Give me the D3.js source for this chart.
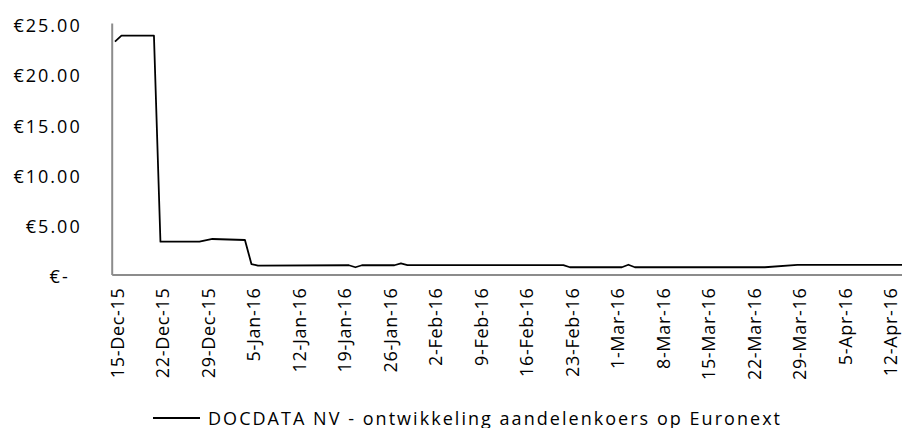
<!DOCTYPE html>
<html>
<head>
<meta charset="utf-8">
<script src="https://cdn.jsdelivr.net/npm/d3@7"></script>
<style>
  html, body { margin: 0; padding: 0; background: #fff; }
  svg { display: block; }
  text { font-family: "Open Sans", "Noto Sans", sans-serif; fill: #000; }
</style>
</head>
<body>
<svg id="chart" width="902" height="428"></svg>
<script>
// ---- data ----
const seriesName = "DOCDATA NV - ontwikkeling aandelenkoers op Euronext";
const dates = ["2015-12-14","2015-12-15","2015-12-20","2015-12-21","2015-12-27","2015-12-29",
  "2016-01-03","2016-01-04","2016-01-05","2016-01-19","2016-01-20","2016-01-21",
  "2016-01-26","2016-01-27","2016-01-28","2016-02-21","2016-02-22","2016-03-01",
  "2016-03-02","2016-03-03","2016-03-23","2016-03-28","2016-04-14"];
const prices = [23.14,23.74,23.74,3.26,3.26,3.53,
  3.43,1.04,0.88,0.92,0.72,0.92,
  0.92,1.10,0.93,0.93,0.72,0.72,
  0.97,0.72,0.72,0.95,0.95];
const tickDates = ["2015-12-15","2015-12-22","2015-12-29","2016-01-05","2016-01-12","2016-01-19",
  "2016-01-26","2016-02-02","2016-02-09","2016-02-16","2016-02-23","2016-03-01",
  "2016-03-08","2016-03-15","2016-03-22","2016-03-29","2016-04-05","2016-04-12"];
const tickLabels = ["15-Dec-15","22-Dec-15","29-Dec-15","5-Jan-16","12-Jan-16","19-Jan-16",
  "26-Jan-16","2-Feb-16","9-Feb-16","16-Feb-16","23-Feb-16","1-Mar-16",
  "8-Mar-16","15-Mar-16","22-Mar-16","29-Mar-16","5-Apr-16","12-Apr-16"];
const yTicks = [0, 5, 10, 15, 20, 25];
const yTickLabels = ["€-", "€5.00", "€10.00", "€15.00", "€20.00", "€25.00"];
const xDomain = ["2015-12-14T00:00", "2016-04-13T14:24"];

// ---- drawing ----
(function () {
const svg = d3.select("#chart");
const mLeft = 111.7, mRight = 902, mTop = 23, mBottom = 274.5;

const x = d3.scaleTime().domain(xDomain.map(d => new Date(d))).range([mLeft, mRight]);
const y = d3.scaleLinear().domain([0, 25]).range([mBottom, mTop]);

// each daily value sits in the middle of its day slot (Excel date axis)
const data = dates.map((d, i) => ({ date: new Date(d + "T12:00"), value: prices[i] }));

svg.append("defs").append("clipPath").attr("id", "plotclip")
  .append("rect").attr("x", mLeft).attr("y", 0).attr("width", mRight - mLeft).attr("height", mBottom + 2);

// Y axis
const yAxis = svg.append("g").attr("transform", `translate(${mLeft},0)`)
  .call(d3.axisLeft(y).tickValues(yTicks).tickSize(0).tickPadding(30)
    .tickFormat((d, i) => yTickLabels[i]));
yAxis.select(".domain").attr("stroke", "#8c8c8c").attr("stroke-width", 2);
yAxis.selectAll("text")
  .attr("font-size", 18)
  .attr("letter-spacing", "2px")
  .attr("dy", "0.47em")
  .attr("font-family", "'Open Sans', sans-serif")
  .attr("dx", (d) => d === 0 ? -12 : 0);

// X axis
const xAxis = svg.append("g").attr("transform", `translate(0,${mBottom})`)
  .call(d3.axisBottom(x).tickValues(tickDates.map(d => new Date(d + "T00:00")))
    .tickSize(0).tickFormat((d, i) => tickLabels[i]));
xAxis.select(".domain").attr("stroke", "#8c8c8c").attr("stroke-width", 2);
xAxis.selectAll(".tick text")
  .attr("font-size", 18)
  .attr("letter-spacing", "0.7px")
  .attr("font-family", "'Open Sans', sans-serif")
  .attr("text-anchor", "end")
  .attr("transform", "rotate(-90)")
  .attr("x", -13)
  .attr("y", 0)
  .attr("dy", "0.28em");

// Line
const line = d3.line().x(d => x(d.date)).y(d => y(d.value));
svg.append("path").datum(data)
  .attr("clip-path", "url(#plotclip)")
  .attr("fill", "none").attr("stroke", "#000").attr("stroke-width", 1.8)
  .attr("stroke-linejoin", "round")
  .attr("d", line);

// Legend
const legend = svg.append("g");
legend.append("line").attr("x1", 153).attr("x2", 200).attr("y1", 418).attr("y2", 418)
  .attr("stroke", "#000").attr("stroke-width", 1.8);
legend.append("text").attr("x", 208).attr("y", 424.5)
  .attr("font-size", 18)
  .attr("textLength", 572).attr("lengthAdjust", "spacing")
  .text(seriesName);
})();
</script>
</body>
</html>
